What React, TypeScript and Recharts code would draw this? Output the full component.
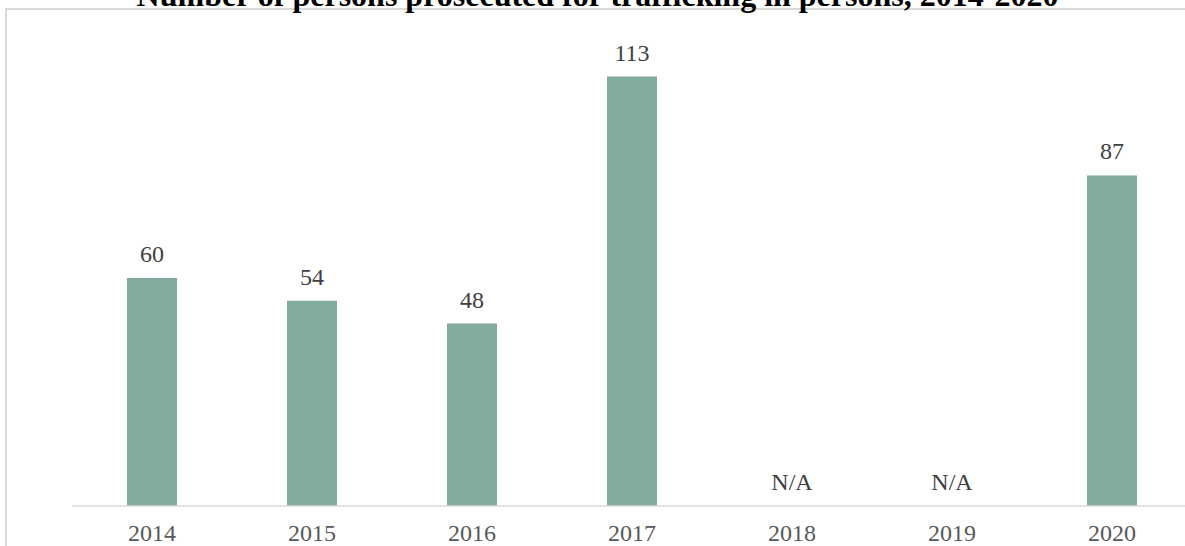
import { ComposedChart, Bar, Line, XAxis, YAxis, LabelList } from 'recharts'

// Persons prosecuted for trafficking in persons, per year (null = N/A)
const years = ['2014', '2015', '2016', '2017', '2018', '2019', '2020']
const prosecuted: (number | null)[] = [60, 54, 48, 113, null, null, 87]

const TITLE = 'Number of persons prosecuted for trafficking in persons, 2014-2020'
const BAR_COLOR = '#83ac9c'
const FONT = '"Liberation Serif", "Times New Roman", serif'

const data = years.map((year, i) => ({
  year,
  value: prosecuted[i] ?? 0,
  text: prosecuted[i] == null ? 'N/A' : String(prosecuted[i]),
}))

// label drawn above each bar; missing years show "N/A" on the axis
const ValueLabel = (props: any) => {
  const { x, y, index } = props
  return (
    <text
      x={x}
      y={y - 16}
      textAnchor="middle"
      fill="#404040"
      fontSize={24}
      fontFamily={FONT}
    >
      {data[index].text}
    </text>
  )
}

export default function App() {
  return (
    <div
      style={{
        position: 'absolute',
        left: 0,
        top: 0,
        width: 1185,
        height: 546,
        overflow: 'hidden',
        background: '#fff',
        fontFamily: FONT,
      }}
    >
      {/* chart frame, runs off the right and bottom edges */}
      <div
        style={{
          position: 'absolute',
          left: 5,
          top: 8,
          width: 1250,
          height: 600,
          border: '2px solid #d9d9d9',
        }}
      />
      <div
        style={{
          position: 'absolute',
          left: 0,
          top: -23,
          width: 1195,
          textAlign: 'center',
          fontSize: 32,
          fontWeight: 'bold',
          color: '#000',
          lineHeight: '36px',
          whiteSpace: 'nowrap',
        }}
      >
        {TITLE}
      </div>
      <div style={{ position: 'absolute', left: 0, top: 0 }}>
        <ComposedChart
          width={1220}
          height={560}
          data={data}
          margin={{ top: 50, right: 28, left: 72, bottom: 0 }}
        >
          <XAxis
            dataKey="year"
            height={54}
            tickLine={false}
            axisLine={{ stroke: '#d9d9d9', strokeWidth: 1.5 }}
            tick={{ fill: '#595959', fontSize: 24, fontFamily: FONT }}
            dy={10}
            interval={0}
          />
          <YAxis hide domain={[0, 120]} />
          <Bar dataKey="value" fill={BAR_COLOR} barSize={50} isAnimationActive={false} />
          <Line
            dataKey="value"
            stroke="none"
            dot={false}
            activeDot={false}
            isAnimationActive={false}
          >
            <LabelList dataKey="text" content={<ValueLabel />} />
          </Line>
        </ComposedChart>
      </div>
    </div>
  )
}
